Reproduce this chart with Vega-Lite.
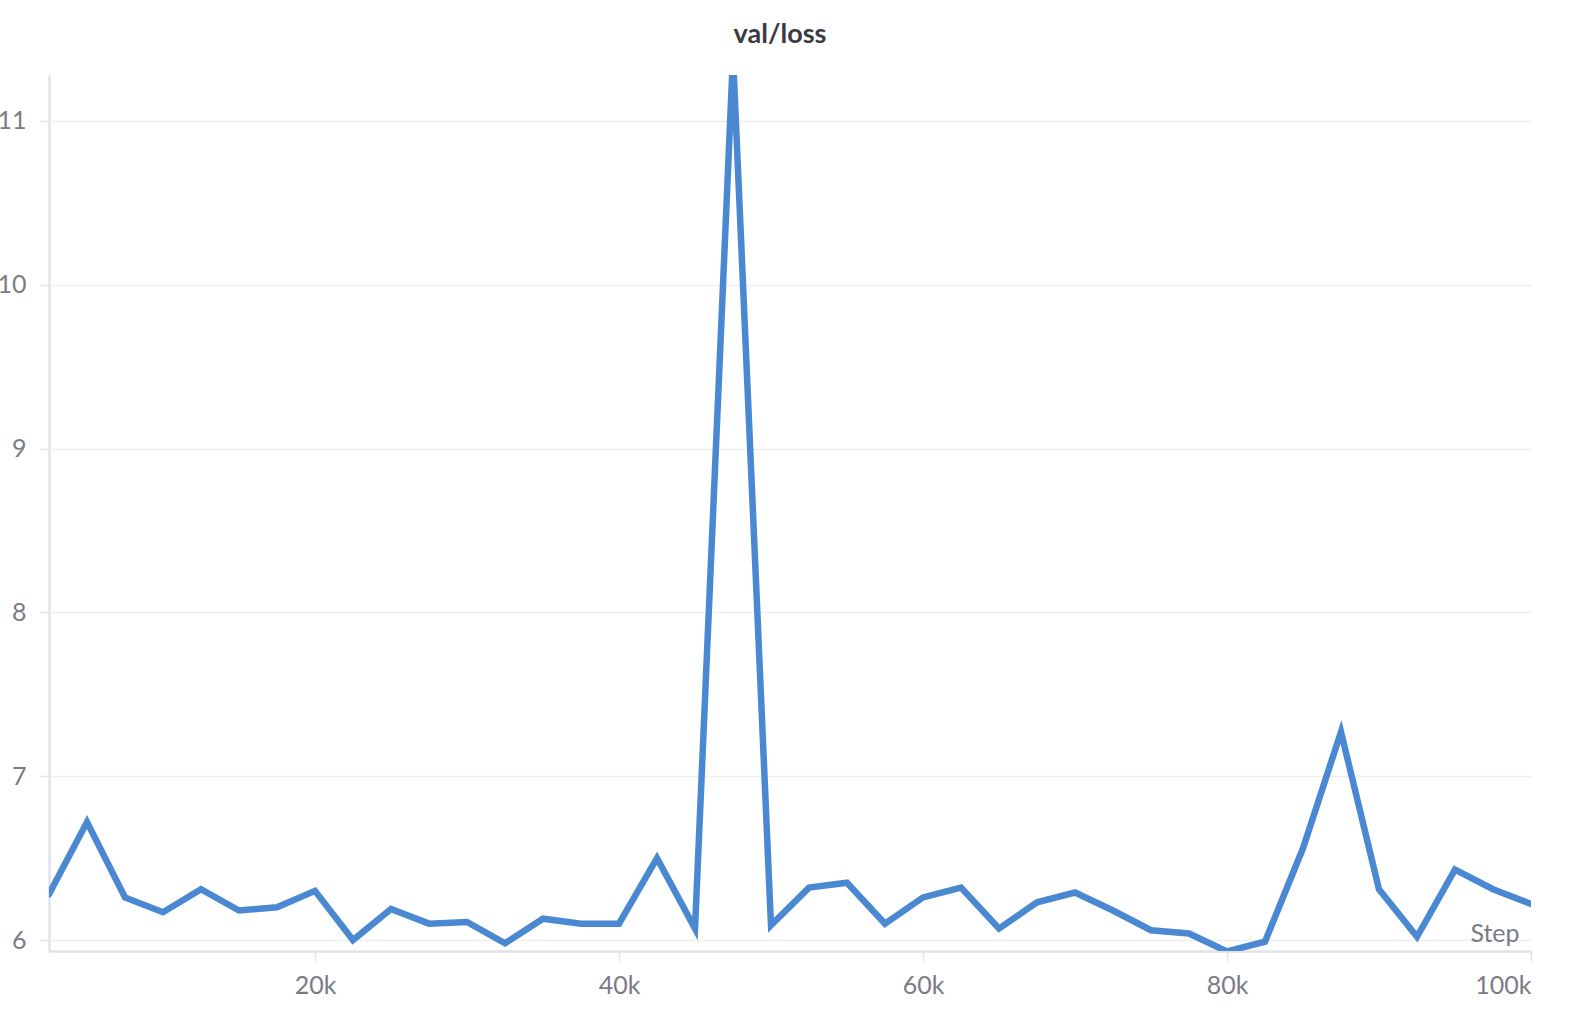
{
  "$schema": "https://vega.github.io/schema/vega-lite/v6.json",
  "autosize": {"type": "none"},
  "padding": {"left": 49, "top": 75, "right": 47, "bottom": 63},
  "width": 1482,
  "height": 876,
  "background": "white",
  "title": {"text": "val/loss", "anchor": "middle", "dx": -10, "offset": 26, "fontSize": 27, "font": "Lato", "fontWeight": "bold", "color": "#3a3a42"},
  "config": {"view": {"stroke": null}},
  "data": {"values": [
    {"step": 2500, "loss": 6.28}, {"step": 5000, "loss": 6.72}, {"step": 7500, "loss": 6.26}, {"step": 10000, "loss": 6.17},
    {"step": 12500, "loss": 6.31}, {"step": 15000, "loss": 6.18}, {"step": 17500, "loss": 6.2}, {"step": 20000, "loss": 6.3},
    {"step": 22500, "loss": 6.0}, {"step": 25000, "loss": 6.19}, {"step": 27500, "loss": 6.1}, {"step": 30000, "loss": 6.11},
    {"step": 32500, "loss": 5.98}, {"step": 35000, "loss": 6.13}, {"step": 37500, "loss": 6.1}, {"step": 40000, "loss": 6.1},
    {"step": 42500, "loss": 6.5}, {"step": 45000, "loss": 6.07}, {"step": 47500, "loss": 11.4}, {"step": 50000, "loss": 6.09},
    {"step": 52500, "loss": 6.32}, {"step": 55000, "loss": 6.35}, {"step": 57500, "loss": 6.1}, {"step": 60000, "loss": 6.26},
    {"step": 62500, "loss": 6.32}, {"step": 65000, "loss": 6.07}, {"step": 67500, "loss": 6.23}, {"step": 70000, "loss": 6.29},
    {"step": 72500, "loss": 6.18}, {"step": 75000, "loss": 6.06}, {"step": 77500, "loss": 6.04}, {"step": 80000, "loss": 5.93},
    {"step": 82500, "loss": 5.99}, {"step": 85000, "loss": 6.56}, {"step": 87500, "loss": 7.27}, {"step": 90000, "loss": 6.31},
    {"step": 92500, "loss": 6.02}, {"step": 95000, "loss": 6.43}, {"step": 97500, "loss": 6.31}, {"step": 100000, "loss": 6.22}
  ]},
  "mark": {"type": "line", "color": "#4a89d2", "strokeWidth": 6.5, "clip": true, "strokeJoin": "miter", "strokeCap": "round"},
  "encoding": {
    "x": {
      "field": "step", "type": "quantitative",
      "scale": {"domain": [2500, 100000], "nice": false, "zero": false},
      "axis": {
        "values": [20000, 40000, 60000, 80000, 100000],
        "labelExpr": "datum.value/1000 + 'k'",
        "grid": false, "domainColor": "#e2e2e8", "domainWidth": 2.5,
        "tickColor": "#e2e2e8", "tickSize": 10, "tickWidth": 1.5,
        "labelFont": "Lato", "labelFontSize": 25, "labelColor": "#7b7b86", "labelPadding": 12,
        "title": "Step", "titleFont": "Lato", "titleFontSize": 25, "titleFontWeight": "normal", "titleColor": "#7b7b86",
        "titleAnchor": null, "titleX": 1470, "titleY": -10, "titleAlign": "right", "titleBaseline": "alphabetic"
      }
    },
    "y": {
      "field": "loss", "type": "quantitative",
      "scale": {"domain": [5.933, 11.28], "nice": false, "zero": false},
      "axis": {
        "values": [6, 7, 8, 9, 10, 11],
        "grid": true, "gridColor": "#efeff2", "gridWidth": 1.5,
        "domainColor": "#e2e2e8", "domainWidth": 2.5,
        "tickColor": "#e2e2e8", "tickSize": 9, "tickWidth": 1.5,
        "labelFont": "Lato", "labelFontSize": 25, "labelColor": "#7b7b86", "labelPadding": 14,
        "title": null
      }
    }
  }
}
